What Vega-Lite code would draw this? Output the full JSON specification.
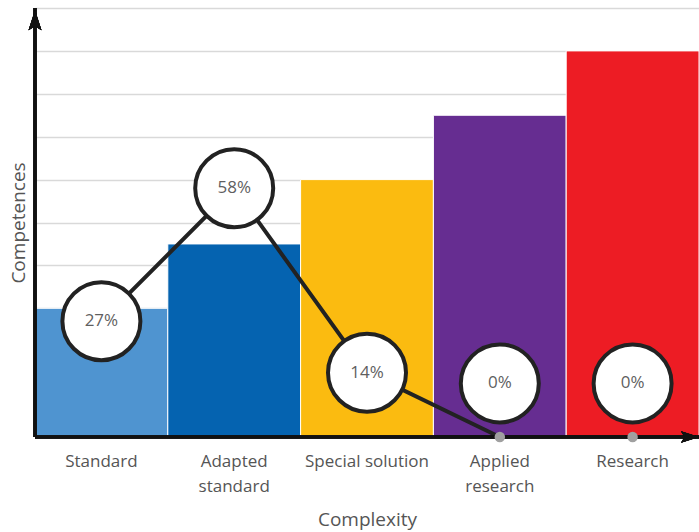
{
  "$schema": "https://vega.github.io/schema/vega-lite/v6.json",
  "width": 664,
  "height": 429,
  "autosize": {"type": "none"},
  "padding": {"left": 35, "top": 8, "right": 0, "bottom": 95},
  "background": "white",
  "config": {"view": {"stroke": null}, "font": "Open Sans"},
  "data": {
    "values": [
      {"complexity": "Standard", "level": 3, "share": "27%", "bubble": 2.7, "trend": 2.7, "dot": null},
      {"complexity": "Adapted standard", "level": 4.5, "share": "58%", "bubble": 5.8, "trend": 5.8, "dot": null},
      {"complexity": "Special solution", "level": 6, "share": "14%", "bubble": 1.5, "trend": 1.5, "dot": null},
      {"complexity": "Applied research", "level": 7.5, "share": "0%", "bubble": 1.25, "trend": 0, "dot": 0},
      {"complexity": "Research", "level": 9, "share": "0%", "bubble": 1.25, "trend": null, "dot": 0}
    ]
  },
  "layer": [
    {
      "mark": {"type": "bar", "stroke": "white", "strokeWidth": 1},
      "encoding": {
        "x": {
          "field": "complexity", "type": "nominal", "sort": null,
          "scale": {"paddingInner": 0, "paddingOuter": 0},
          "axis": {
            "title": "Complexity", "titleFontSize": 19, "titleFontWeight": "normal", "titleColor": "#555555", "titlePadding": 16,
            "labelAngle": 0, "labelFontSize": 17, "labelColor": "#555555", "labelPadding": 16, "labelLineHeight": 25,
            "labelExpr": "datum.label == 'Adapted standard' ? ['Adapted', 'standard'] : datum.label == 'Applied research' ? ['Applied', 'research'] : datum.label",
            "domain": false, "ticks": false
          }
        },
        "y": {
          "field": "level", "type": "quantitative",
          "scale": {"domain": [0, 10], "nice": false},
          "axis": {
            "title": "Competences", "titleFontSize": 19, "titleFontWeight": "normal", "titleColor": "#555555", "titlePadding": 7,
            "values": [1, 2, 3, 4, 5, 6, 7, 8, 9, 10],
            "labels": false, "ticks": false, "domain": false,
            "grid": true, "gridColor": "#d9d9d9", "gridWidth": 1.5
          }
        },
        "color": {
          "field": "complexity", "type": "nominal", "legend": null,
          "scale": {
            "domain": ["Standard", "Adapted standard", "Special solution", "Applied research", "Research"],
            "range": ["#4f94d0", "#0563b0", "#fbbb10", "#662d91", "#ed1c24"]
          }
        }
      }
    },
    {
      "mark": {"type": "line", "stroke": "#222222", "strokeWidth": 4},
      "encoding": {
        "x": {"field": "complexity", "type": "nominal", "sort": null},
        "y": {"field": "trend", "type": "quantitative"}
      }
    },
    {
      "mark": {"type": "rule", "stroke": "#111111", "strokeWidth": 3},
      "encoding": {"y": {"datum": 0, "type": "quantitative"}}
    },
    {
      "mark": {"type": "rule", "stroke": "#111111", "strokeWidth": 3},
      "encoding": {"x": {"datum": "Standard", "type": "nominal", "bandPosition": 0}}
    },
    {
      "mark": {"type": "point", "filled": true, "fill": "#111111", "strokeWidth": 0, "opacity": 1, "size": 324, "shape": "M0,0 L-2,-0.65 L-1.6,0 L-2,0.65 Z"},
      "encoding": {
        "x": {"datum": "Research", "type": "nominal", "bandPosition": 1},
        "y": {"datum": 0, "type": "quantitative"}
      }
    },
    {
      "mark": {"type": "point", "filled": true, "fill": "#111111", "strokeWidth": 0, "opacity": 1, "size": 400, "shape": "M0,0 L0.65,2 L0,1.6 L-0.65,2 Z"},
      "encoding": {
        "x": {"datum": "Standard", "type": "nominal", "bandPosition": 0},
        "y": {"datum": 9.95, "type": "quantitative"}
      }
    },
    {
      "mark": {"type": "point", "filled": true, "fill": "#a0a0a0", "strokeWidth": 0, "opacity": 1, "size": 110, "shape": "circle"},
      "encoding": {
        "x": {"field": "complexity", "type": "nominal", "sort": null},
        "y": {"field": "dot", "type": "quantitative"}
      }
    },
    {
      "mark": {"type": "point", "filled": true, "fill": "white", "stroke": "#222222", "strokeWidth": 4, "opacity": 1, "size": 6084, "shape": "circle"},
      "encoding": {
        "x": {"field": "complexity", "type": "nominal", "sort": null},
        "y": {"field": "bubble", "type": "quantitative"}
      }
    },
    {
      "mark": {"type": "text", "fontSize": 17, "color": "#5f5f5f", "align": "center", "baseline": "middle"},
      "encoding": {
        "x": {"field": "complexity", "type": "nominal", "sort": null},
        "y": {"field": "bubble", "type": "quantitative"},
        "text": {"field": "share"}
      }
    }
  ]
}
